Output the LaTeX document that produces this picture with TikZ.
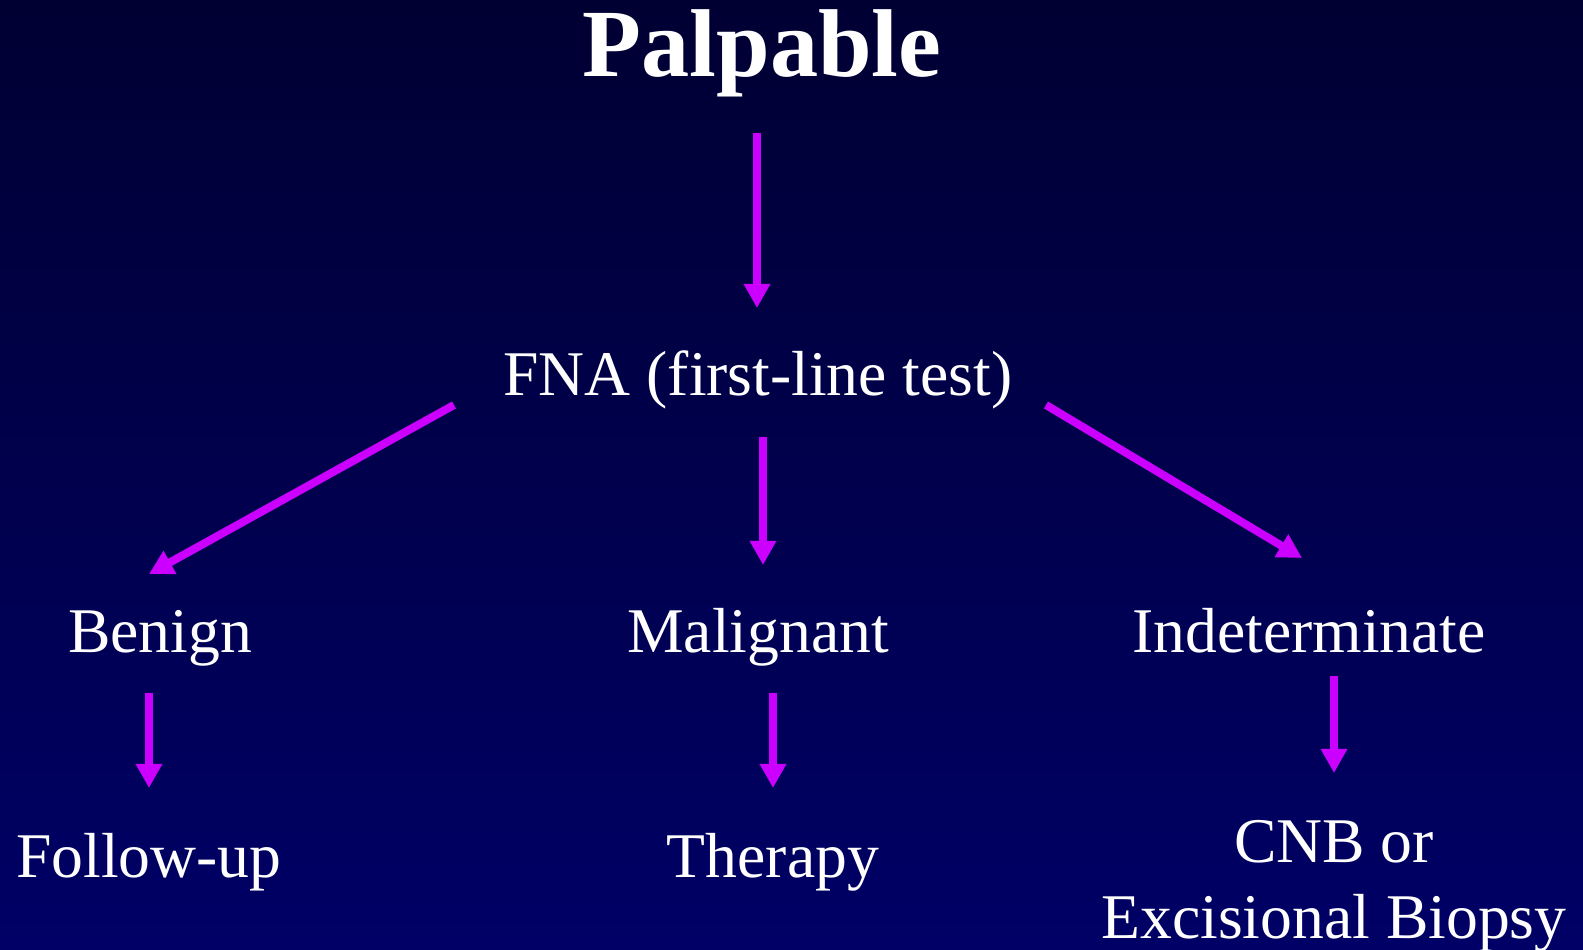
\documentclass[tikz,border=0pt]{standalone}
\usepackage{fontspec}
\setmainfont{Liberation Serif}
\usetikzlibrary{arrows.meta}
\definecolor{bgtop}{HTML}{000033}
\definecolor{bgbot}{HTML}{000066}
\definecolor{arrowpurple}{HTML}{CC00FF}
\begin{document}
\begin{tikzpicture}[x=0.01cm,y=-0.01cm]
      \shade[top color=bgtop,bottom color=bgbot] (0,0) rectangle (1583,949);
      \useasboundingbox (0,0) rectangle (1583,949);
      \node[text=white,font=\fontsize{27.4}{33}\selectfont\bfseries,anchor=base] (palpable) at (762,77) {Palpable};
      \begin{scope}[every node/.style={text=white,anchor=base,font=\fontsize{18.1}{21.6}\selectfont}]
        \node (fna) at (758,395) {FNA (first-line test)};
        \node (benign) at (160,652) {Benign};
        \node (malig) at (758,652) {Malignant};
        \node (indet) at (1309,652) {Indeterminate};
        \node (follow) at (149,877) {Follow-up};
        \node (therapy) at (773,877) {Therapy};
        \node[align=center] (cnb) at (1334,938) {CNB or\\Excisional Biopsy};
      \end{scope}
      % arrow ends
      \coordinate (p-s) at (757,133);
      \coordinate (p-e) at (757,308);
      \coordinate (fl-s) at (454,405);
      \coordinate (fl-e) at (149,574);
      \coordinate (fm-s) at (763,437);
      \coordinate (fm-e) at (763,565);
      \coordinate (fr-s) at (1046,405);
      \coordinate (fr-e) at (1302,558);
      \coordinate (b-s) at (149,693);
      \coordinate (b-e) at (149,788);
      \coordinate (m-s) at (773,693);
      \coordinate (m-e) at (773,788);
      \coordinate (i-s) at (1334,676);
      \coordinate (i-e) at (1334,773);
      \begin{scope}[every edge/.style={draw=arrowpurple,line width=0.08cm,-{Triangle[length=0.24cm,width=0.25cm]}}]
        \path (p-s) edge (p-e);
        \path (fl-s) edge (fl-e);
        \path (fm-s) edge (fm-e);
        \path (fr-s) edge (fr-e);
        \path (b-s) edge (b-e);
        \path (m-s) edge (m-e);
        \path (i-s) edge (i-e);
      \end{scope}
    \end{tikzpicture}
\end{document}
